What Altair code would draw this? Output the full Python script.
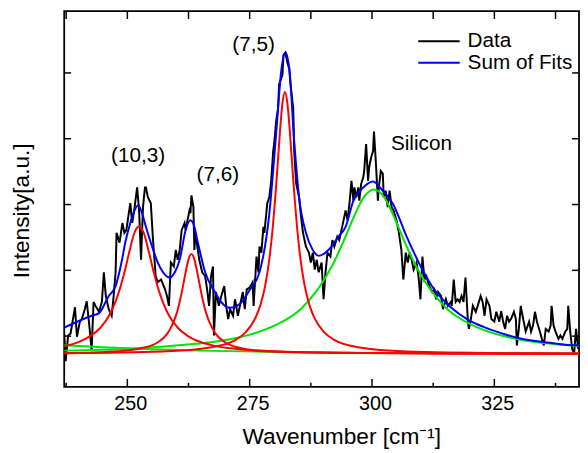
import altair as alt
import pandas as pd

FONT = "Liberation Sans"

# ---------------- data ----------------
data_wn = [237.1, 237.4, 237.9, 238.4, 239.3, 239.7, 240.3, 240.7, 241.3, 241.7, 242.3, 242.7, 243.1, 243.5,
           244.2, 244.8, 245.2, 245.6, 246.2, 246.8, 247.2, 247.6, 247.8, 248.4, 249.0, 249.4, 249.8, 250.6,
           251.0, 251.4, 252.0, 252.4, 252.8, 253.2, 253.6, 253.8, 254.2, 254.8, 255.2, 255.8, 256.2, 256.9,
           257.7, 258.1, 258.5, 258.9, 259.5, 259.9, 260.3, 260.7, 261.1, 261.7, 261.9, 262.3, 262.7, 262.9,
           263.1, 263.5, 263.7, 263.9, 264.3, 264.7, 265.3, 265.9, 266.3, 266.7, 267.1, 267.5, 267.7, 268.1,
           268.7, 269.2, 269.8, 270.2, 270.6, 271.0, 271.6, 272.0, 272.6, 273.0, 273.6, 274.0, 274.4, 275.0,
           275.6, 275.8, 276.4, 276.8, 277.0, 277.4, 277.8, 278.0, 278.6, 279.0, 279.4, 279.8, 280.0, 280.4,
           280.8, 281.0, 281.7, 281.9, 282.3, 282.7, 283.1, 283.3, 283.9, 284.1, 284.5, 285.1, 285.5, 285.9,
           286.5, 287.1, 287.5, 287.9, 288.3, 288.7, 289.1, 289.7, 290.1, 290.5, 290.9, 291.5, 291.9, 292.3,
           292.9, 293.3, 293.9, 294.6, 295.0, 295.4, 295.8, 296.2, 296.4, 296.8, 297.2, 297.4, 297.8, 298.2,
           298.4, 298.8, 299.2, 299.4, 299.8, 300.2, 300.4, 300.8, 301.2, 301.4, 301.8, 302.2, 302.4, 302.8,
           303.2, 303.6, 304.0, 304.4, 305.0, 305.4, 306.0, 306.4, 306.9, 307.3, 307.7, 308.1, 308.5, 309.1,
           309.5, 309.9, 310.3, 310.7, 311.1, 311.7, 312.3, 312.7, 313.1, 313.5, 314.1, 314.5, 315.1, 315.5,
           316.1, 316.3, 316.7, 317.1, 317.5, 317.9, 318.3, 318.7, 319.1, 319.6, 319.8, 320.2, 320.6, 321.2,
           321.6, 322.2, 322.6, 323.0, 323.4, 324.0, 324.4, 325.0, 325.4, 326.0, 326.4, 326.8, 327.2, 327.6,
           328.0, 328.4, 329.0, 329.4, 329.6, 330.0, 330.4, 330.6, 331.0, 331.4, 332.1, 332.5, 332.9, 333.3,
           333.7, 334.3, 334.7, 335.1, 335.5, 336.1, 336.5, 336.7, 337.1, 337.5, 338.1, 338.5, 338.9, 339.5,
           339.9, 340.1, 340.5, 340.9, 341.3, 341.7, 342.1]
data_int = [4, -38, 1, 4, 44, -1, 22, 26, 41, 53, 11, -22, 52, 46,
            37, 52, 97, 61, 41, 31, 61, 97, 157, 142, 172, 157, 161, 202,
            172, 191, 226, 191, 116, 196, 226, 226, 211, 202, 151, 91, 82, 86,
            71, 61, 46, 112, 106, 131, 116, 131, 161, 172, 161, 176, 191, 187,
            214, 196, 131, 157, 136, 116, 97, 91, 71, 46, 91, 106, 1, 67,
            46, 61, 76, 46, 26, 41, 31, 56, 31, 46, 67, 41, 71, 74,
            82, 46, 121, 97, 136, 127, 166, 157, 202, 211, 236, 281, 292, 326,
            346, 382, 397, 427, 431, 416, 406, 386, 346, 281, 232, 211, 181, 157,
            136, 127, 112, 127, 101, 116, 97, 112, 56, 97, 127, 121, 146, 136,
            151, 146, 166, 191, 176, 202, 236, 206, 226, 211, 226, 206, 232, 241,
            251, 292, 236, 256, 271, 281, 311, 262, 206, 226, 251, 247, 211, 221,
            196, 221, 196, 191, 176, 161, 131, 86, 127, 112, 127, 116, 101, 112,
            91, 56, 121, 86, 91, 76, 67, 71, 56, 67, 61, 41, 56, 46,
            52, 46, 86, 52, 56, 52, 61, 52, 89, 22, 11, 26, 46, 37,
            46, 61, 52, 31, 56, 46, 26, 22, 37, 22, 38, 22, 11, 31,
            22, 26, 37, 26, -14, 11, 46, 37, 22, 7, 22, 7, 16, 37,
            22, 7, -4, -14, 11, 7, 16, 46, 16, 7, -4, 1, -4, 7,
            11, 46, 7, -19, -26, 11, -19]

fit_sum_wn = [237.1, 242.7, 244.2, 246.2, 247.6, 248.8, 249.6, 250.6, 251.4, 252.2, 253.0, 253.8, 255.2,
              256.2, 257.3, 258.7, 259.7, 260.7, 261.9, 262.9, 263.7, 264.3, 265.9, 267.9, 269.4, 270.8,
              272.4, 273.4, 274.8, 277.0, 279.0, 280.4, 281.5, 282.3, 283.1, 284.1, 285.1, 286.5, 287.9,
              289.1, 291.1, 293.1, 294.6, 296.2, 298.2, 300.2, 302.2, 304.2, 307.1, 310.3, 312.7, 316.1,
              319.4, 322.8, 326.2, 329.4, 332.9, 336.3, 339.5, 342.3]
fit_sum_int = [13, 31, 35, 61, 76, 112, 143, 172, 190, 199, 187, 166, 133,
               112, 97, 89, 97, 116, 161, 176, 166, 146, 97, 67, 50, 43,
               46, 52, 68, 97, 185, 307, 406, 431, 406, 296, 211, 157, 131,
               122, 131, 151, 166, 206, 226, 235, 221, 202, 151, 101, 71, 44,
               26, 14, 5, -2, -7, -10, -13, -14]

peak_103_wn = [237.1, 240.0, 242.4, 244.4, 246.4, 247.4, 248.4, 249.4, 250.4, 251.4, 252.4, 253.4,
               254.4, 255.4, 256.4, 257.4, 258.4, 260.4, 262.4, 267.4, 272.4, 282.4, 302.4, 342.3]
peak_103_int = [-15, -9, 0, 12, 33, 49, 70, 97, 128, 156, 167, 156,
                128, 97, 70, 49, 33, 12, 0, -14, -19.5, -23.6, -25.8, -26.6]

peak_76_wn = [237.1, 248.1, 253.1, 256.1, 258.1, 259.1, 260.1, 261.1, 261.6, 262.1, 262.6, 263.1, 263.6,
              264.1, 264.6, 265.1, 266.1, 267.1, 268.1, 270.1, 273.1, 278.1, 288.1, 313.1, 342.3]
peak_76_int = [-26, -23, -18, -10, 3, 16, 35, 66, 85, 104, 119, 125, 119,
               104, 85, 66, 35, 16, 3, -10, -18, -23, -25, -26.6, -26.8]

peak_75_wn = [237.1, 257.2, 267.2, 272.2, 274.2, 276.2, 277.2, 278.2, 279.2, 279.7, 280.2, 280.7, 281.2,
              281.7, 282.2, 282.7, 283.2, 283.7, 284.2, 284.7, 285.2, 286.2, 287.2, 288.2, 290.2, 292.2,
              297.2, 307.2, 327.2, 342.3]
peak_75_int = [-25.9, -23.4, -17, -5.4, 6, 28, 47.5, 78, 128, 164, 208, 259, 312,
               354, 371, 354, 312, 259, 208, 164, 128, 78, 47.5, 28, 6, -5.4,
               -17, -23.4, -25.9, -26.4]

silicon_wn = [237.1, 250.4, 260.4, 270.4, 275.4, 280.4, 285.4, 288.4, 290.4, 292.4, 294.4, 296.4, 298.4,
              300.4, 302.4, 304.4, 306.4, 308.4, 310.4, 312.4, 315.4, 320.4, 325.4, 330.4, 340.4, 342.3]
silicon_int = [-22, -19, -14, -5.5, 3, 17, 41, 66, 88, 115, 148, 183, 212,
               223, 212, 183, 148, 115, 88, 66, 41, 17, 3, -5.5, -14, -15]

background_wn = [237.1, 245, 255, 265, 280, 300, 342.3]
background_int = [-14, -17, -20, -22, -24, -25.5, -26.5]

x_major_ticks = [250, 275, 300, 325]
x_minor_ticks = [237.5, 262.5, 287.5, 312.5, 337.5]
y_ticks = [0, 100, 200, 300, 400]

note_text = ["(10,3)", "(7,6)", "(7,5)", "Silicon"]
note_wn = [252.2, 268.5, 275.8, 310.1]
note_int = [274, 245, 442, 292]

# ---------------- tables ----------------
W, H = 522, 381

df_data = pd.DataFrame({"wn": data_wn, "I": data_int, "series": "Data"})
df_sum = pd.DataFrame({"wn": fit_sum_wn, "I": fit_sum_int, "series": "Sum of Fits"})
df_red = pd.concat([
    pd.DataFrame({"wn": peak_103_wn, "I": peak_103_int, "peak": "(10,3)"}),
    pd.DataFrame({"wn": peak_76_wn, "I": peak_76_int, "peak": "(7,6)"}),
    pd.DataFrame({"wn": peak_75_wn, "I": peak_75_int, "peak": "(7,5)"}),
])
df_green = pd.concat([
    pd.DataFrame({"wn": silicon_wn, "I": silicon_int, "peak": "Silicon"}),
    pd.DataFrame({"wn": background_wn, "I": background_int, "peak": "background"}),
])
df_notes = pd.DataFrame({"wn": note_wn, "I": note_int, "t": note_text})
df_xmaj = pd.DataFrame({"wn": x_major_ticks})
df_xmin = pd.DataFrame({"wn": x_minor_ticks})
df_y = pd.DataFrame({"I": y_ticks})

xscale = alt.Scale(domain=[237.1, 342.3], nice=False, zero=False)
yscale = alt.Scale(domain=[-77, 494], nice=False, zero=False)

xaxis = alt.Axis(values=x_major_ticks, ticks=False, domain=False, grid=False, format="d",
                 labelFont=FONT, labelFontSize=20, labelColor="black",
                 labelBaseline="alphabetic", labelPadding=23, labelOffset=3,
                 title="Wavenumber [cm⁻¹]", titleFont=FONT, titleFontSize=23,
                 titleFontWeight="normal", titleColor="black",
                 titleX=281, titleY=57, titleBaseline="alphabetic", titleAlign="center")
yaxis = alt.Axis(values=y_ticks, labels=False, ticks=False, domain=False, grid=False,
                 title="Intensity[a.u.]", titleFont=FONT, titleFontSize=23,
                 titleFontWeight="normal", titleColor="black",
                 titleX=-36, titleY=202, titleAngle=-90, titleBaseline="alphabetic",
                 titleAlign="center")

X = alt.X("wn:Q", scale=xscale, axis=xaxis)
Y = alt.Y("I:Q", scale=yscale, axis=yaxis)

color = alt.Color("series:N",
                  scale=alt.Scale(domain=["Data", "Sum of Fits"], range=["#000000", "#0000ff"]),
                  legend=alt.Legend(orient="none", legendX=348.5, legendY=20, title=None,
                                    symbolType="M0,0H12", symbolSize=49, symbolStrokeWidth=2,
                                    labelFont=FONT, labelFontSize=21, labelColor="black",
                                    labelOffset=39.5, rowPadding=0, padding=0))

data_line = alt.Chart(df_data).mark_line(strokeWidth=2, clip=True).encode(x=X, y=Y, color=color)
green_lines = alt.Chart(df_green).mark_line(strokeWidth=2, color="#00e600", interpolate="monotone",
                                            clip=True).encode(x=X, y=Y, detail="peak:N")
red_lines = alt.Chart(df_red).mark_line(strokeWidth=2, color="#ff0000", interpolate="monotone",
                                        clip=True).encode(x=X, y=Y, detail="peak:N")
sum_line = alt.Chart(df_sum).mark_line(strokeWidth=2, interpolate="monotone", clip=True).encode(
    x=X, y=Y, color=color)

notes = alt.Chart(df_notes).mark_text(font=FONT, fontSize=21, color="black", align="center",
                                      baseline="middle").encode(x=X, y=Y, text="t:N")

tick_style = dict(color="black", strokeWidth=1.5)
xmaj_bottom = alt.Chart(df_xmaj).mark_rule(**tick_style).encode(x=X, y=alt.value(H), y2=alt.value(H - 8))
xmin_bottom = alt.Chart(df_xmin).mark_rule(**tick_style).encode(x=X, y=alt.value(H), y2=alt.value(H - 4))
xmaj_top = alt.Chart(df_xmaj).mark_rule(**tick_style).encode(x=X, y=alt.value(0), y2=alt.value(8))
xmin_top = alt.Chart(df_xmin).mark_rule(**tick_style).encode(x=X, y=alt.value(0), y2=alt.value(8))
y_left = alt.Chart(df_y).mark_rule(**tick_style).encode(y=Y, x=alt.value(0), x2=alt.value(7))
y_right = alt.Chart(df_y).mark_rule(**tick_style).encode(y=Y, x=alt.value(W), x2=alt.value(W - 7))

chart = alt.layer(
    data_line, green_lines, red_lines, sum_line, notes,
    xmaj_bottom, xmin_bottom, xmaj_top, xmin_top, y_left, y_right
).properties(
    width=W, height=H,
    autosize=alt.AutoSizeParams(type="none"),
    padding={"left": 57, "top": 0, "right": 1, "bottom": 64},
).configure(font=FONT, background="white").configure_view(stroke="black", strokeWidth=1.8)

chart.save("out.html", embed_options={"renderer": "svg", "actions": False})
